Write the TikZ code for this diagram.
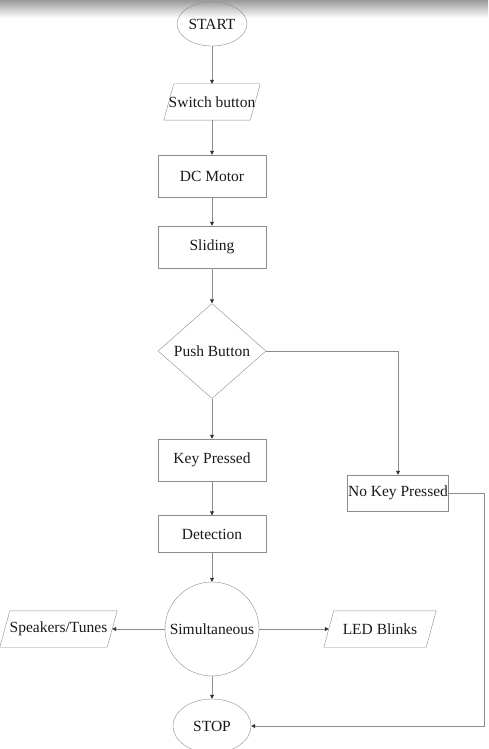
\documentclass[tikz,border=0pt]{standalone}
\usepackage{fontspec}
\setmainfont{Liberation Serif}
\usetikzlibrary{shapes.geometric}
\usetikzlibrary{arrows.meta}
\tikzset{
  every node/.style={font=\fontsize{15.5}{18}\selectfont, text=black!90},
  stepbox/.style={draw=black!45, rectangle, minimum width=108pt, minimum height=42pt, inner sep=0pt},
  iobox/.style={rectangle, minimum height=36pt, inner sep=0pt},
  ioline/.style={draw=black!45},
  termbox/.style={draw=black!45, ellipse, inner sep=0pt},
  decbox/.style={draw=black!45, diamond, aspect=1.14, minimum width=108pt, minimum height=95pt, inner sep=0pt},
  flow/.style={draw=black!45, thick, -{Triangle[length=4pt,width=4pt,fill=black!80,color=black!80]}}
}
\newcommand{\stepnode}[4]{\node[stepbox] (#1) at ( #2 , #3 ) {#4};}
\newcommand{\ionode}[5]{\node[iobox, minimum width=#4] (#1) at ( #2 , #3 ) {#5};
  \draw[ioline] ([xshift=10pt]#1.north west) -- (#1.north east) -- ([xshift=-10pt]#1.south east) -- (#1.south west) -- cycle;}
\newcommand{\flowline}[2]{\draw[flow] (#1) -- (#2);}

\begin{document}
\begin{tikzpicture}[x=1pt, y=-1pt]
        \useasboundingbox (0,0) rectangle (488,749);
        \shade[top color=black!40, bottom color=white] (0,0) rectangle (488,18);

        \node[termbox, minimum width=70pt, minimum height=44pt] (start) at (212,24) {START};
        \ionode{switch}{212}{102}{96pt}{Switch button}
        \stepnode{dc}{212}{176}{DC Motor}
        \stepnode{slide}{212}{247}{Sliding}
        \node[decbox] (push) at (212,351) {Push Button};
        \stepnode{key}{212}{460}{Key Pressed}
        \node[stepbox, minimum width=101pt, minimum height=36pt] (nokey) at (398,493) {No Key Pressed};
        \node[stepbox, minimum height=37pt] (detect) at (212,534) {Detection};
        \node[draw=black!45, circle, minimum size=94pt, inner sep=0pt] (simul) at (212,629) {Simultaneous};
        \ionode{speak}{58.5}{629}{117pt}{Speakers/Tunes}
        \ionode{led}{380}{629}{112pt}{LED Blinks}
        \node[termbox, minimum width=78pt, minimum height=54pt] (stop) at (212,726) {STOP};
        \coordinate (bend) at (484,493);

        \flowline{start}{switch}
        \flowline{switch}{dc}
        \flowline{dc}{slide}
        \flowline{slide}{push}
        \flowline{push}{key}
        \draw[flow] (push.east) -| (nokey.north);
        \flowline{key}{detect}
        \flowline{detect}{simul}
        \flowline{simul.west}{[xshift=-5pt]speak.east}
        \flowline{simul.east}{[xshift=5pt]led.west}
        \flowline{simul}{stop}
        \draw[flow] (nokey.east) -- (bend) |- (stop.east);

    \end{tikzpicture}
\end{document}
